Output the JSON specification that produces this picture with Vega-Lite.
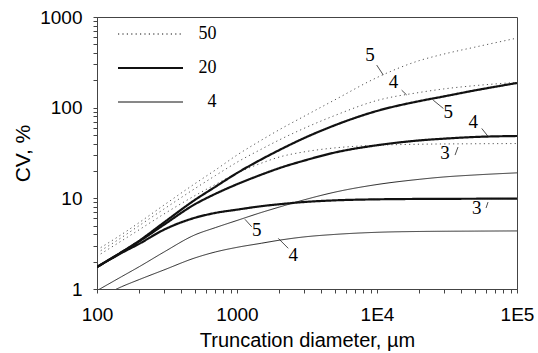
{
  "$schema": "https://vega.github.io/schema/vega-lite/v6.json",
  "width": 420,
  "height": 272,
  "autosize": {"type": "none"},
  "padding": {"left": 97, "top": 17, "right": 21, "bottom": 64},
  "background": "white",
  "config": {"view": {"stroke": "#444", "strokeWidth": 1}, "font": "Liberation Sans"},
  "datasets": {
    "curves": [
      {"series":"50","k":5,"d":100,"cv":2.7},{"series":"50","k":5,"d":150,"cv":4.0},{"series":"50","k":5,"d":200,"cv":5.4},{"series":"50","k":5,"d":300,"cv":8.4},{"series":"50","k":5,"d":500,"cv":14.5},{"series":"50","k":5,"d":700,"cv":20.5},{"series":"50","k":5,"d":1000,"cv":30},{"series":"50","k":5,"d":1500,"cv":44},{"series":"50","k":5,"d":2000,"cv":57},{"series":"50","k":5,"d":3000,"cv":80},{"series":"50","k":5,"d":5000,"cv":122},{"series":"50","k":5,"d":10000,"cv":215},{"series":"50","k":5,"d":20000,"cv":330},{"series":"50","k":5,"d":30000,"cv":390},{"series":"50","k":5,"d":50000,"cv":465},{"series":"50","k":5,"d":100000,"cv":585},
      {"series":"50","k":4,"d":100,"cv":2.5},{"series":"50","k":4,"d":150,"cv":3.7},{"series":"50","k":4,"d":200,"cv":5.0},{"series":"50","k":4,"d":300,"cv":7.6},{"series":"50","k":4,"d":500,"cv":12.8},{"series":"50","k":4,"d":700,"cv":17.8},{"series":"50","k":4,"d":1000,"cv":25},{"series":"50","k":4,"d":1500,"cv":35},{"series":"50","k":4,"d":2000,"cv":44},{"series":"50","k":4,"d":3000,"cv":59},{"series":"50","k":4,"d":5000,"cv":82},{"series":"50","k":4,"d":10000,"cv":120},{"series":"50","k":4,"d":20000,"cv":147},{"series":"50","k":4,"d":30000,"cv":161},{"series":"50","k":4,"d":50000,"cv":175},{"series":"50","k":4,"d":100000,"cv":190},
      {"series":"50","k":3,"d":100,"cv":2.3},{"series":"50","k":3,"d":150,"cv":3.4},{"series":"50","k":3,"d":200,"cv":4.5},{"series":"50","k":3,"d":300,"cv":6.7},{"series":"50","k":3,"d":500,"cv":10.7},{"series":"50","k":3,"d":700,"cv":14.2},{"series":"50","k":3,"d":1000,"cv":19},{"series":"50","k":3,"d":1500,"cv":24.5},{"series":"50","k":3,"d":2000,"cv":28.5},{"series":"50","k":3,"d":3000,"cv":32.5},{"series":"50","k":3,"d":5000,"cv":36},{"series":"50","k":3,"d":10000,"cv":38.5},{"series":"50","k":3,"d":20000,"cv":39.5},{"series":"50","k":3,"d":50000,"cv":40},{"series":"50","k":3,"d":100000,"cv":40.2},
      {"series":"20","k":5,"d":100,"cv":1.75},{"series":"20","k":5,"d":150,"cv":2.55},{"series":"20","k":5,"d":200,"cv":3.4},{"series":"20","k":5,"d":300,"cv":5.4},{"series":"20","k":5,"d":500,"cv":9.6},{"series":"20","k":5,"d":700,"cv":13.4},{"series":"20","k":5,"d":1000,"cv":19},{"series":"20","k":5,"d":1500,"cv":27},{"series":"20","k":5,"d":2000,"cv":34},{"series":"20","k":5,"d":3000,"cv":46},{"series":"20","k":5,"d":5000,"cv":64},{"series":"20","k":5,"d":10000,"cv":92},{"series":"20","k":5,"d":20000,"cv":118},{"series":"20","k":5,"d":30000,"cv":133},{"series":"20","k":5,"d":50000,"cv":155},{"series":"20","k":5,"d":100000,"cv":187},
      {"series":"20","k":4,"d":100,"cv":1.75},{"series":"20","k":4,"d":150,"cv":2.55},{"series":"20","k":4,"d":200,"cv":3.35},{"series":"20","k":4,"d":300,"cv":5.1},{"series":"20","k":4,"d":500,"cv":8.6},{"series":"20","k":4,"d":700,"cv":11.2},{"series":"20","k":4,"d":1000,"cv":14.3},{"series":"20","k":4,"d":1500,"cv":18.3},{"series":"20","k":4,"d":2000,"cv":21.5},{"series":"20","k":4,"d":3000,"cv":26},{"series":"20","k":4,"d":5000,"cv":32},{"series":"20","k":4,"d":10000,"cv":38.5},{"series":"20","k":4,"d":20000,"cv":43.5},{"series":"20","k":4,"d":30000,"cv":45.5},{"series":"20","k":4,"d":50000,"cv":47.5},{"series":"20","k":4,"d":100000,"cv":48.7},
      {"series":"20","k":3,"d":100,"cv":1.75},{"series":"20","k":3,"d":150,"cv":2.5},{"series":"20","k":3,"d":200,"cv":3.15},{"series":"20","k":3,"d":300,"cv":4.5},{"series":"20","k":3,"d":500,"cv":6.1},{"series":"20","k":3,"d":700,"cv":6.9},{"series":"20","k":3,"d":1000,"cv":7.5},{"series":"20","k":3,"d":1500,"cv":8.2},{"series":"20","k":3,"d":2000,"cv":8.6},{"series":"20","k":3,"d":3000,"cv":9.1},{"series":"20","k":3,"d":5000,"cv":9.5},{"series":"20","k":3,"d":10000,"cv":9.75},{"series":"20","k":3,"d":20000,"cv":9.85},{"series":"20","k":3,"d":50000,"cv":9.9},{"series":"20","k":3,"d":100000,"cv":9.95},
      {"series":"4","k":5,"d":100,"cv":0.96},{"series":"4","k":5,"d":150,"cv":1.37},{"series":"4","k":5,"d":200,"cv":1.76},{"series":"4","k":5,"d":300,"cv":2.55},{"series":"4","k":5,"d":500,"cv":3.95},{"series":"4","k":5,"d":700,"cv":4.75},{"series":"4","k":5,"d":1000,"cv":5.7},{"series":"4","k":5,"d":1500,"cv":7.0},{"series":"4","k":5,"d":2000,"cv":8.0},{"series":"4","k":5,"d":3000,"cv":9.6},{"series":"4","k":5,"d":5000,"cv":11.7},{"series":"4","k":5,"d":10000,"cv":14.2},{"series":"4","k":5,"d":20000,"cv":16.2},{"series":"4","k":5,"d":30000,"cv":17.2},{"series":"4","k":5,"d":50000,"cv":18.1},{"series":"4","k":5,"d":100000,"cv":19.1},
      {"series":"4","k":4,"d":100,"cv":0.78},{"series":"4","k":4,"d":150,"cv":1.06},{"series":"4","k":4,"d":200,"cv":1.27},{"series":"4","k":4,"d":300,"cv":1.62},{"series":"4","k":4,"d":500,"cv":2.2},{"series":"4","k":4,"d":700,"cv":2.56},{"series":"4","k":4,"d":1000,"cv":2.88},{"series":"4","k":4,"d":1500,"cv":3.2},{"series":"4","k":4,"d":2000,"cv":3.45},{"series":"4","k":4,"d":3000,"cv":3.75},{"series":"4","k":4,"d":5000,"cv":4.0},{"series":"4","k":4,"d":10000,"cv":4.22},{"series":"4","k":4,"d":20000,"cv":4.31},{"series":"4","k":4,"d":50000,"cv":4.35},{"series":"4","k":4,"d":100000,"cv":4.37}
    ],
    "labels": [
      {"label":"5","d":8900,"cv":380},
      {"label":"4","d":13100,"cv":193},
      {"label":"5","d":32300,"cv":90},
      {"label":"4","d":48700,"cv":70},
      {"label":"3","d":30600,"cv":31.3},
      {"label":"3","d":51500,"cv":7.76},
      {"label":"5","d":1384,"cv":4.47},
      {"label":"4","d":2523,"cv":2.37}
    ],
    "leaders": [
      {"d":9950,"cv":295,"d2":11090,"cv2":229},
      {"d":15000,"cv":156,"d2":16300,"cv2":138},
      {"d":25200,"cv":121,"d2":29800,"cv2":98},
      {"d":56000,"cv":59,"d2":62400,"cv2":47.8},
      {"d":36100,"cv":30.0,"d2":37900,"cv2":36.8},
      {"d":60100,"cv":7.82,"d2":62100,"cv2":9.1},
      {"d":1140,"cv":5.87,"d2":1273,"cv2":4.86},
      {"d":1972,"cv":3.62,"d2":2323,"cv2":2.81}
    ]
  },
  "layer": [
    {
      "data": {"name": "curves"},
      "mark": {"type": "line", "clip": true, "interpolate": "monotone"},
      "encoding": {
        "x": {
          "field": "d", "type": "quantitative",
          "scale": {"type": "log", "domain": [100, 100000], "nice": false},
          "axis": {
            "title": "Truncation diameter, µm",
            "values": [100,200,300,400,500,600,700,800,900,1000,2000,3000,4000,5000,6000,7000,8000,9000,10000,20000,30000,40000,50000,60000,70000,80000,90000,100000],
            "labelExpr": "datum.value == 100 ? '100' : datum.value == 1000 ? '1000' : datum.value == 10000 ? '1E4' : datum.value == 100000 ? '1E5' : ''",
            "labelFont": "Liberation Sans", "labelFontSize": 19, "labelColor": "black",
            "labelPadding": 12, "labelOverlap": false, "labelFlush": false,
            "tickSize": 4, "tickColor": "#444", "domainColor": "#444", "grid": false,
            "titleFont": "Liberation Sans", "titleFontSize": 20, "titleFontWeight": "normal", "titleColor": "black", "titlePadding": 6
          }
        },
        "y": {
          "field": "cv", "type": "quantitative",
          "scale": {"type": "log", "domain": [1, 1000], "nice": false},
          "axis": {
            "title": "CV, %",
            "values": [1,2,3,4,5,6,7,8,9,10,20,30,40,50,60,70,80,90,100,200,300,400,500,600,700,800,900,1000],
            "labelExpr": "datum.value == 1 ? '1' : datum.value == 10 ? '10' : datum.value == 100 ? '100' : datum.value == 1000 ? '1000' : ''",
            "labelFont": "Liberation Sans", "labelFontSize": 19, "labelColor": "black",
            "labelPadding": 11, "labelOverlap": false, "labelFlush": false,
            "tickSize": 4, "tickColor": "#444", "domainColor": "#444", "grid": false,
            "titleFont": "Liberation Sans", "titleFontSize": 21, "titleFontWeight": "normal", "titleColor": "black", "titlePadding": 6
          }
        },
        "strokeDash": {
          "field": "series", "type": "nominal",
          "scale": {"domain": ["50", "20", "4"], "range": [[1.2, 3.2], [1, 0], [1, 0]]},
          "legend": {
            "orient": "none", "legendX": 23, "legendY": 8, "title": null, "padding": 0,
            "symbolType": "M-3.25,0H3.25", "symbolSize": 400, "symbolOffset": 21.5,
            "symbolStrokeColor": "#111",
            "symbolStrokeWidth": {"expr": "datum.value == '20' ? 2.2 : 1"},
            "labelOffset": 57, "labelAlign": "right",
            "labelFont": "Liberation Serif", "labelFontSize": 18, "labelColor": "black",
            "rowPadding": 16
          }
        },
        "detail": {"field": "k", "type": "nominal"},
        "strokeWidth": {"condition": {"test": "datum.series == '20'", "value": 2.2}, "value": 0.9},
        "color": {"condition": {"test": "datum.series == '50'", "value": "#444"}, "value": "#111"}
      }
    },
    {
      "data": {"name": "leaders"},
      "mark": {"type": "rule", "strokeWidth": 0.8, "color": "#222"},
      "encoding": {
        "x": {"field": "d", "type": "quantitative"},
        "y": {"field": "cv", "type": "quantitative"},
        "x2": {"field": "d2"},
        "y2": {"field": "cv2"}
      }
    },
    {
      "data": {"name": "labels"},
      "mark": {"type": "text", "font": "Liberation Serif", "fontSize": 19, "color": "black", "align": "center", "baseline": "middle"},
      "encoding": {
        "x": {"field": "d", "type": "quantitative"},
        "y": {"field": "cv", "type": "quantitative"},
        "text": {"field": "label"}
      }
    }
  ]
}
